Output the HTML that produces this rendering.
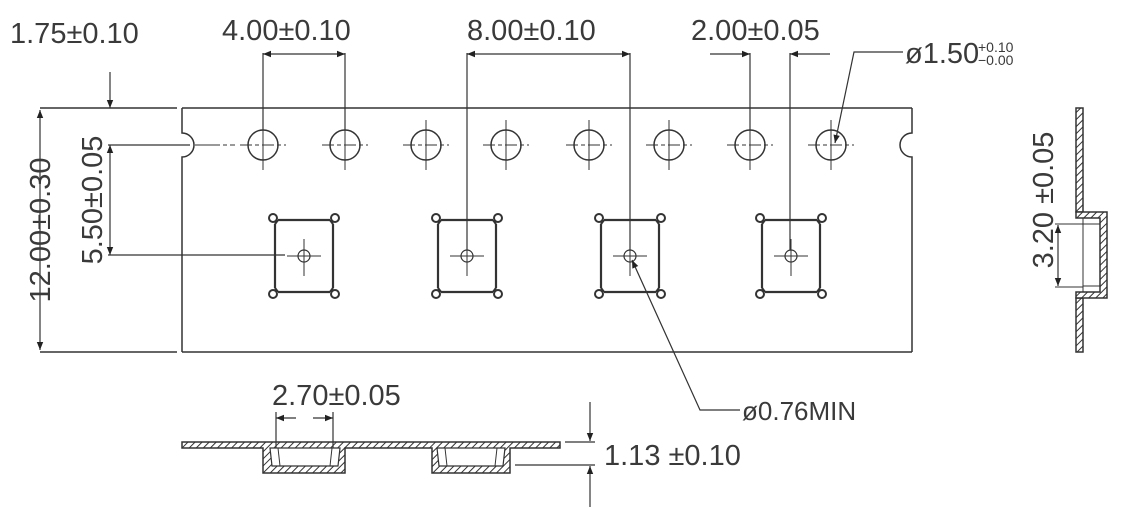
<!DOCTYPE html>
<html><head><meta charset="utf-8"><style>
html,body{margin:0;padding:0;background:#fff;}
svg{display:block;}
text{font-family:"Liberation Sans","DejaVu Sans",sans-serif;fill:#3a3a3a;}
</style></head><body>
<svg width="1122" height="514" viewBox="0 0 1122 514" xmlns="http://www.w3.org/2000/svg">
<defs>
<marker id="ar" viewBox="0 0 10 10" refX="10" refY="5" markerWidth="16" markerHeight="8" markerUnits="userSpaceOnUse" orient="auto-start-reverse"><path d="M0,1 L10,5 L0,9 z" fill="#222"/></marker>
<pattern id="hatch" width="5" height="5" patternUnits="userSpaceOnUse" patternTransform="rotate(45)"><rect width="5" height="5" fill="#fff"/><line x1="0" y1="0" x2="0" y2="5" stroke="#333" stroke-width="2"/></pattern>
<g id="sh" stroke="#333" fill="none"><circle cx="0" cy="145" r="15" stroke-width="1.5"/><line x1="-23" y1="145" x2="23" y2="145" stroke-width="1" stroke-dasharray="12,3,4,3"/><line x1="0" y1="120" x2="0" y2="170" stroke-width="1"/></g>
<g id="pk" stroke="#333" fill="none" stroke-width="2.2">
<path d="M-26,-36 L26,-36 M-26,36 L26,36 M-29,-32 L-29,32 M29,-32 L29,32"/>
<path d="M-26,-36 L-29,-32 M26,-36 L29,-32 M-26,36 L-29,32 M26,36 L29,32"/>
<circle cx="-31" cy="-38" r="4" stroke-width="2"/><circle cx="31" cy="-38" r="4" stroke-width="2"/>
<circle cx="-31" cy="38" r="4" stroke-width="2"/><circle cx="31" cy="38" r="4" stroke-width="2"/>
<circle cx="0" cy="0" r="6" stroke-width="1.2"/>
<line x1="-17" y1="0" x2="17" y2="0" stroke-width="1"/><line x1="0" y1="-17" x2="0" y2="20" stroke-width="1"/>
</g>
</defs>
<g stroke="#333" stroke-width="1.5" fill="none">
<g>
<line x1="40" y1="108" x2="177" y2="108"/>
<line x1="182" y1="108" x2="912" y2="108"/>
<line x1="40" y1="352" x2="177" y2="352"/>
<line x1="182" y1="352" x2="912" y2="352"/>
<path d="M182,108 L182,133 A12,12 0 0 1 182,157 L182,352"/>
<path d="M912,108 L912,133 A12,12 0 0 0 912,157 L912,352"/>
</g>
<g>
<use href="#sh" x="263"/><use href="#sh" x="345"/><use href="#sh" x="426"/><use href="#sh" x="506"/>
<use href="#sh" x="589"/><use href="#sh" x="669"/><use href="#sh" x="750"/><use href="#sh" x="831"/>
<line x1="195" y1="145" x2="235" y2="145" stroke-width="1" stroke-dasharray="25,3,4,3"/>
</g>
<g>
<use href="#pk" x="304" y="256"/><use href="#pk" x="467" y="256"/><use href="#pk" x="630" y="256"/><use href="#pk" x="791" y="256"/>
</g>
<g stroke-width="1.2">
<line x1="110" y1="72" x2="110" y2="108" marker-end="url(#ar)"/>
<line x1="40" y1="110" x2="40" y2="350" marker-start="url(#ar)" marker-end="url(#ar)"/>
<line x1="110" y1="145" x2="110" y2="255" marker-start="url(#ar)" marker-end="url(#ar)"/>
<line x1="108" y1="145" x2="190" y2="145"/>
<line x1="108" y1="255" x2="285" y2="255"/>
<line x1="263" y1="53" x2="263" y2="130"/><line x1="345" y1="53" x2="345" y2="130"/>
<line x1="263" y1="54" x2="345" y2="54" marker-start="url(#ar)" marker-end="url(#ar)"/>
<line x1="467" y1="53" x2="467" y2="250"/><line x1="630" y1="53" x2="630" y2="250"/>
<line x1="467" y1="54" x2="630" y2="54" marker-start="url(#ar)" marker-end="url(#ar)"/>
<line x1="750" y1="53" x2="750" y2="130"/><line x1="790" y1="53" x2="790" y2="250"/>
<line x1="710" y1="54" x2="750" y2="54" marker-end="url(#ar)"/>
<line x1="830" y1="54" x2="790" y2="54" marker-end="url(#ar)"/>
<polyline points="903,52 854,52 835,143" marker-end="url(#ar)"/>
<polyline points="740,410 700,410 632,260" marker-end="url(#ar)"/>
</g>
<g>
<rect x="1076" y="108" width="7" height="104" fill="url(#hatch)"/>
<rect x="1076" y="298" width="7" height="54" fill="url(#hatch)"/>
<path d="M1076,212 L1107,212 L1107,298 L1076,298 L1076,292 L1100,292 L1100,218 L1076,218 Z" fill="url(#hatch)"/>
<line x1="1083" y1="224" x2="1100" y2="224" stroke-width="1"/><line x1="1083" y1="286" x2="1100" y2="286" stroke-width="1"/>
<line x1="1083" y1="218" x2="1083" y2="292" stroke-width="1"/>
<line x1="1055" y1="224" x2="1083" y2="224" stroke-width="1"/><line x1="1055" y1="287" x2="1083" y2="287" stroke-width="1"/>
<line x1="1058" y1="225" x2="1058" y2="286" stroke-width="1.2" marker-start="url(#ar)" marker-end="url(#ar)"/>
</g>
<g>
<path d="M182,442 L560,442 L560,448 L510,448 L510,473 L432,473 L432,448 L345,448 L345,473 L263,473 L263,448 L182,448 Z" fill="url(#hatch)"/>
<path d="M270,448 L272,466 L338,466 L340,448 Z M437,448 L439,466 L503,466 L505,448 Z" fill="#fff" stroke-width="1.2"/>
<line x1="278" y1="448" x2="280" y2="466" stroke-width="1"/><line x1="332" y1="448" x2="330" y2="466" stroke-width="1"/>
<line x1="445" y1="448" x2="447" y2="466" stroke-width="1"/><line x1="497" y1="448" x2="495" y2="466" stroke-width="1"/>
<line x1="276" y1="412" x2="276" y2="448" stroke-width="1.2"/><line x1="333" y1="412" x2="333" y2="448" stroke-width="1.2"/>
<line x1="276" y1="418" x2="296" y2="418" stroke-width="1.2" marker-start="url(#ar)"/>
<line x1="313" y1="418" x2="333" y2="418" stroke-width="1.2" marker-end="url(#ar)"/>
<line x1="565" y1="442" x2="595" y2="442" stroke-width="1.2"/><line x1="515" y1="465" x2="595" y2="465" stroke-width="1.2"/>
<line x1="590" y1="402" x2="590" y2="441" stroke-width="1.2" marker-end="url(#ar)"/>
<line x1="590" y1="507" x2="590" y2="466" stroke-width="1.2" marker-end="url(#ar)"/>
</g>
</g>
<g font-size="29">
<text x="10" y="43">1.75±0.10</text>
<text x="222" y="40">4.00±0.10</text>
<text x="467" y="40">8.00±0.10</text>
<text x="691" y="40">2.00±0.05</text>
<text x="905" y="63">ø1.50</text>
<text transform="translate(50,230) rotate(-90)" text-anchor="middle">12.00±0.30</text>
<text transform="translate(102,200) rotate(-90)" text-anchor="middle">5.50±0.05</text>
<text transform="translate(1053,200) rotate(-90)" text-anchor="middle">3.20 ±0.05</text>
<text x="272" y="405">2.70±0.05</text>
<text x="604" y="465">1.13 ±0.10</text>
<text x="742" y="420" font-size="26">ø0.76MIN</text>
</g>
<text x="978" y="52" font-size="14">+0.10</text>
<text x="978" y="65" font-size="14">−0.00</text>
</svg>
</body></html>
